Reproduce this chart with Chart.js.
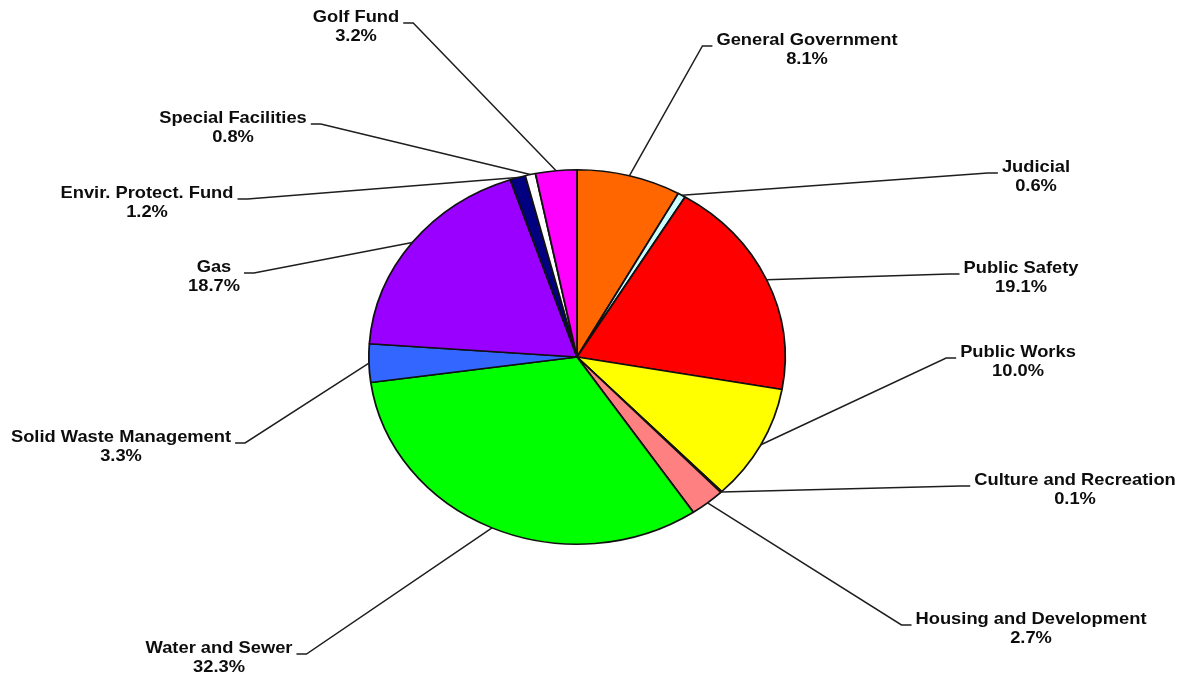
<!DOCTYPE html>
<html>
<head>
<meta charset="utf-8">
<title>Expenditures by Fund</title>
<script src="https://cdn.jsdelivr.net/npm/chart.js@4/dist/chart.umd.min.js"></script>
<style>
  html, body { margin: 0; padding: 0; background: #fff; }
  canvas { display: block; }
</style>
</head>
<body>
<canvas id="fund-pie" width="1188" height="677"></canvas>
<script>
const categories = [
  "General Government", "Judicial", "Public Safety", "Public Works",
  "Culture and Recreation", "Housing and Development", "Water and Sewer",
  "Solid Waste Management", "Gas", "Envir. Protect. Fund",
  "Special Facilities", "Golf Fund"
]
const shares = [8.1, 0.6, 19.1, 10.0, 0.1, 2.7, 32.3, 3.3, 18.7, 1.2, 0.8, 3.2]

const sliceColors = [
  "#ff6600", "#ccffff", "#ff0000", "#ffff00", "#ff9966", "#ff8080",
  "#00ff00", "#3366ff", "#9900ff", "#000080", "#ffffff", "#ff00ff"
]

// label block centre (x) and first text line (y), same order as categories
const labelSpots = [
  { x: 807, y: 40 }, { x: 1036, y: 167 }, { x: 1021, y: 268 }, { x: 1018, y: 352 },
  { x: 1075, y: 480 }, { x: 1031, y: 619 }, { x: 219, y: 648 }, { x: 121, y: 437 },
  { x: 214, y: 267 }, { x: 147, y: 193 }, { x: 233, y: 118 }, { x: 356, y: 17 }
]

const stretchX = 1.112   // pie is drawn wider than tall
const textStretch = 1.11
const labelFont = "bold 16.5px 'Liberation Sans', Arial, sans-serif"

function pieCentre(chart) {
  const arc = chart.getDatasetMeta(0).data[0]
  return { cx: arc.x, cy: arc.y, r: arc.outerRadius }
}

const ellipsePlugin = {
  id: "ellipse",
  beforeDatasetsDraw(chart) {
    const { ctx } = chart
    const { cx, cy } = pieCentre(chart)
    ctx.save()
    ctx.translate(cx, cy)
    ctx.scale(stretchX, 1)
    ctx.translate(-cx, -cy)
  },
  afterDatasetsDraw(chart) {
    chart.ctx.restore()
  },
}

const leaderLabels = {
  id: "leaderLabels",
  afterDraw(chart) {
    const { ctx } = chart
    const { cx, cy, r } = pieCentre(chart)
    const arcs = chart.getDatasetMeta(0).data
    ctx.save()
    ctx.font = labelFont
    arcs.forEach((arc, i) => {
      const spot = labelSpots[i]
      const line1 = categories[i]
      const line2 = shares[i].toFixed(1) + "%"
      const boxW = Math.max(ctx.measureText(line1).width, ctx.measureText(line2).width) * textStretch
      const mid = (arc.startAngle + arc.endAngle) / 2
      const edgeX = cx + stretchX * r * Math.cos(mid)
      const edgeY = cy + r * Math.sin(mid)
      const tickY = spot.y + 6
      let near, far
      if (spot.x > cx) {
        near = spot.x - boxW / 2 - 4
        far = near - 10
      } else {
        near = spot.x + boxW / 2 + 4
        far = near + 10
      }
      ctx.strokeStyle = "#1e1e1e"
      ctx.lineWidth = 1.5
      ctx.beginPath()
      ctx.moveTo(edgeX, edgeY)
      ctx.lineTo(far, tickY)
      ctx.lineTo(near, tickY)
      ctx.stroke()

      ctx.fillStyle = "#0d0d0d"
      ctx.textAlign = "center"
      ctx.textBaseline = "middle"
      ;[line1, line2].forEach((txt, k) => {
        ctx.save()
        ctx.translate(spot.x, spot.y + k * 19.5)
        ctx.scale(textStretch, 1)
        ctx.fillText(txt, 0, 0)
        ctx.restore()
      })
    })
    ctx.restore()
  },
}

new Chart(document.getElementById("fund-pie"), {
  type: "pie",
  data: {
    labels: categories,
    datasets: [
      {
        data: shares,
        backgroundColor: sliceColors,
        borderColor: "#111",
        borderWidth: 1.6,
        clip: false,
      },
    ],
  },
  options: {
    responsive: false,
    animation: false,
    events: [],
    layout: {
      padding: { left: 389, right: 423, top: 169, bottom: 132 },
    },
    plugins: {
      legend: { display: false },
      tooltip: { enabled: false },
    },
  },
  plugins: [ellipsePlugin, leaderLabels],
})
</script>
</body>
</html>
